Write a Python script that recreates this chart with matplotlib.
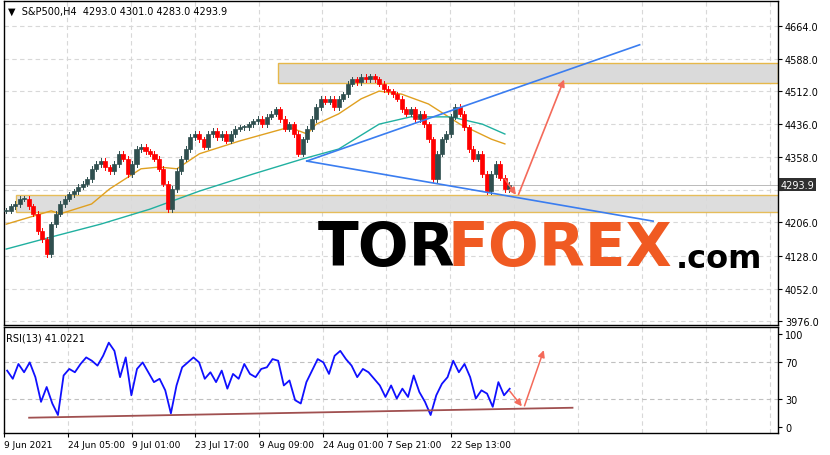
import matplotlib
matplotlib.use("Agg")
import matplotlib.pyplot as plt
import numpy as np
from matplotlib.patches import Rectangle

closes = [4233,4244,4249,4261,4261,4244,4226,4186,4167,4132,4202,4226,4249,4261,4272,4279,4289,4296,4307,4331,
          4342,4349,4335,4326,4342,4366,4354,4319,4342,4377,4382,4372,4366,4354,4331,4296,4237,4284,4326,4354,
          4377,4405,4412,4400,4382,4412,4419,4405,4412,4396,4412,4424,4428,4428,4435,4442,4447,4435,4452,4459,
          4470,4447,4424,4435,4412,4366,4400,4424,4447,4475,4494,4487,4494,4475,4494,4505,4529,4540,4533,4545,
          4540,4547,4540,4529,4517,4512,4505,4494,4470,4459,4470,4447,4459,4435,4400,4307,4366,4400,4412,4452,
          4475,4459,4428,4377,4354,4366,4319,4279,4319,4342,4310,4284,4294]
ma_fast_idx = [0,10,12,19,23,30,34,38,43,52,63,67,69,74,79,83,88,94,101,108,111]
ma_fast = [4202,4233,4226,4249,4284,4331,4335,4331,4366,4396,4428,4412,4435,4459,4494,4512,4505,4482,4435,4400,4389]
ma_slow_idx = [0,10,21,32,43,55,66,74,83,90,99,106,111]
ma_slow = [4144,4172,4202,4237,4279,4319,4354,4377,4435,4452,4452,4435,4412]
rsi = [60.7,51.8,67.9,58.9,69.6,53.6,26.8,42.9,25,12.5,55.4,62.5,58.9,67.9,75,71.4,66.1,76.8,91,82.1,53.6,75,33.9,
       62.5,69.6,58.9,48.2,51.8,39.3,14.3,44.6,64.3,69.6,75,69.6,51.8,58.9,48.2,60.7,41.1,57.1,51.8,67.9,57.1,53.6,
       62.5,64.3,73.2,71.4,44.6,50,28.6,25,48.2,60.7,73.2,69.6,57.1,76.8,82.1,73.2,66.1,53.6,62.5,58.9,51.8,44.6,
       32.1,44.6,30.4,41.1,32.1,55.4,37.5,26.8,12.5,33.9,46.4,53.6,71.4,58.9,67.9,53.6,30.4,39.3,35.7,21.4,48.2,33.9,41.0]
price_ticks = [4664.0,4588.0,4512.0,4436.0,4358.0,4282.0,4206.0,4128.0,4052.0,3976.0]
date_labels = ["9 Jun 2021","24 Jun 05:00","9 Jul 01:00","23 Jul 17:00","9 Aug 09:00","24 Aug 01:00","7 Sep 21:00","22 Sep 13:00"]
last_price = 4293.9
upper_zone = (4531, 4578)
lower_zone = (4230, 4270)

W, H = 830, 456
fig = plt.figure(figsize=(8.3, 4.56), dpi=100)
ax = fig.add_axes([4/W, 1-326/H, 774/W, 324/H])
ax2 = fig.add_axes([4/W, 1-434/H, 774/W, 106/H])
XMAX = 171.8
for a in (ax, ax2):
    a.set_xlim(-0.5, XMAX)
    for s in a.spines.values():
        s.set_linewidth(1.0); s.set_color('black')
    a.yaxis.tick_right()
    a.tick_params(axis='y', labelsize=7, length=3, pad=2)
    grid_x = np.arange(-0.7, XMAX, 14.22)
    for gx in grid_x:
        a.axvline(gx, color='#d8d8d8', ls=(0, (4, 3)), lw=0.8, zorder=0)

ax.set_ylim(3967, 4722)
ax.set_yticks(price_ticks)
ax.set_yticklabels(["" if abs(t-last_price) < 20 else f"{t:.1f}" for t in price_ticks])
for t in price_ticks:
    ax.axhline(t, color='#d8d8d8', ls=(0, (4, 3)), lw=0.8, zorder=0)
ax.set_xticks([])

x0z = 60.4
ax.add_patch(Rectangle((x0z, upper_zone[0]), XMAX - x0z, upper_zone[1]-upper_zone[0], fc='#dadada', ec='#e6b84a', lw=1, zorder=1))
ax.add_patch(Rectangle((2.2, lower_zone[0]), XMAX, lower_zone[1]-lower_zone[0], fc='#dadada', ec='#e6b84a', lw=1, zorder=1, alpha=0.9))

ax.plot(ma_fast_idx, ma_fast, color='#e0a020', lw=1, zorder=2)
ax.plot(ma_slow_idx, ma_slow, color='#20b0a0', lw=1, zorder=2)

prev = closes[0]
for i, c in enumerate(closes):
    o = prev
    lo, hi = min(o, c), max(o, c)
    col = '#2f4f4f' if c >= o else '#ff0000'
    ax.add_patch(Rectangle((i-0.45, lo), 0.9, max(hi-lo, 2), fc=col, ec=col, lw=0.5, zorder=3))
    ax.plot([i, i], [lo-6, hi+6], color=col, lw=0.7, zorder=3)
    prev = c

ax.plot([66.9, 141], [4349, 4620], color='#3a7df0', lw=1.2, zorder=4)
ax.plot([66.9, 144], [4349, 4209], color='#3a7df0', lw=1.2, zorder=4)
ax.annotate('', xy=(113.8, 4265), xytext=(110.7, 4312), arrowprops=dict(arrowstyle='-|>', color='#f46a5a', lw=1.2), zorder=5)
ax.annotate('', xy=(124.4, 4545), xytext=(113.8, 4265), arrowprops=dict(arrowstyle='-|>', color='#f46a5a', lw=1.2), zorder=5)

ax.axhline(last_price, color='#b0b0b0', lw=0.6, zorder=1)
ax.text(1.003, (last_price-3967)/(4722-3967), f"{last_price:.1f}", transform=ax.transAxes, fontsize=7,
        color='white', va='center', ha='left', bbox=dict(fc='#2f2f2f', ec='none', pad=1.2), zorder=10, clip_on=False)

ax.text(0.005, 0.985, "▼  S&P500,H4  4293.0 4301.0 4283.0 4293.9", transform=ax.transAxes, fontsize=7, va='top', ha='left')

ax.text(0.405, 0.235, "TOR", transform=ax.transAxes, fontsize=43, fontweight='bold', color='black', va='center', ha='left', zorder=6)
ax.text(0.573, 0.235, "FOREX", transform=ax.transAxes, fontsize=43, fontweight='bold', color='#f05a22', va='center', ha='left', zorder=6)
ax.text(0.868, 0.205, ".com", transform=ax.transAxes, fontsize=23, fontweight='bold', color='black', va='center', ha='left', zorder=6)

ax2.set_ylim(-7, 108)
ax2.set_yticks([0, 30, 70, 100])
for t in (30, 70):
    ax2.axhline(t, color='#c0c0c0', ls=(0, (4, 3)), lw=0.8, zorder=0)
rx = np.linspace(0, len(closes)-1, len(rsi))
ax2.plot(rx, rsi, color='#1010ff', lw=1.3)
ax2.plot([4.9, 126], [9.6, 20.4], color='#a05050', lw=1.3)
ax2.annotate('', xy=(115.1, 19.6), xytext=(111.6, 41), arrowprops=dict(arrowstyle='-|>', color='#f46a5a', lw=1.1))
ax2.annotate('', xy=(119.8, 85.7), xytext=(115.1, 19.6), arrowprops=dict(arrowstyle='-|>', color='#f46a5a', lw=1.1))
ax2.text(0.003, 0.95, "RSI(13) 41.0221", transform=ax2.transAxes, fontsize=7, va='top', ha='left')
tick_pos = [-0.7 + 14.22*k for k in range(len(date_labels))]
ax2.set_xticks(tick_pos)
ax2.set_xticklabels(date_labels, fontsize=6.5, ha='left')
ax2.tick_params(axis='x', length=3, pad=2)

fig.savefig("out.png", dpi=100)
